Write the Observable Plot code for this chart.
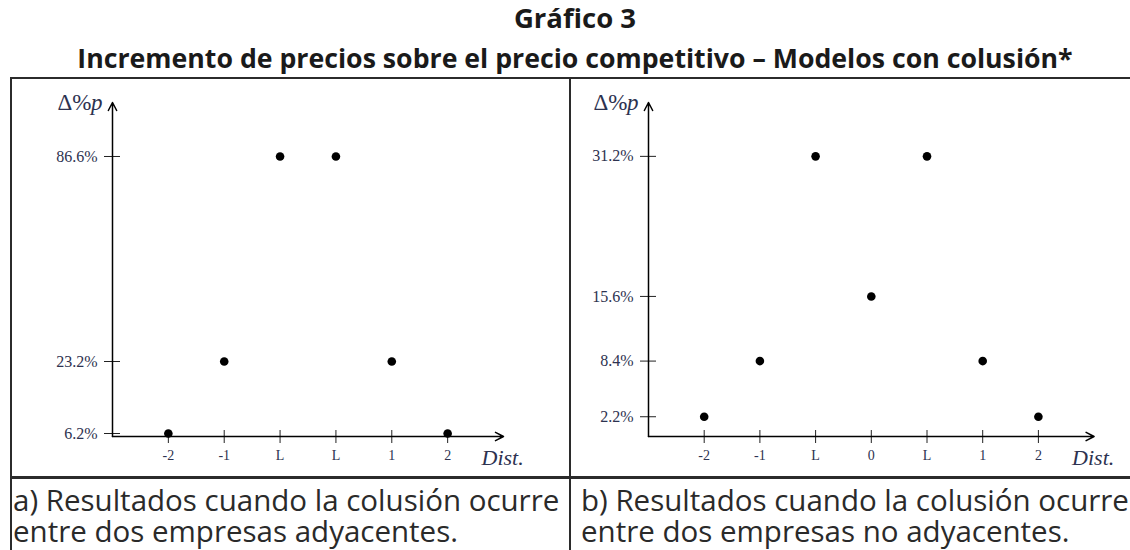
<!DOCTYPE html>
<html>
<head>
<meta charset="utf-8">
<script src="https://cdn.jsdelivr.net/npm/d3@7"></script>
<script src="https://cdn.jsdelivr.net/npm/@observablehq/plot@0.6"></script>
<style>
  html, body { margin: 0; padding: 0; background: #fff; }
  body { width: 1130px; height: 550px; position: relative; overflow: hidden; font-family: "Open Sans", sans-serif; color: #222; }
  .title { position: absolute; left: 0; width: 1150px; text-align: center; font-weight: 700; font-size: 27px; line-height: 36px; color: #1a1a1a; white-space: nowrap; }
  .hline, .vline { position: absolute; background: #2b2b2b; }
  .caption { position: absolute; font-size: 29.5px; line-height: 31px; color: #2a2a2a; white-space: nowrap; }
  .panel { position: absolute; }
</style>
</head>
<body>
<div class="title" id="t1" style="top:0px; font-size:27.5px;"></div>
<div class="title" id="t2" style="top:40px; font-size:26.7px;"></div>

<div class="hline" style="left:10px; top:77px; width:1130px; height:2px;"></div>
<div class="vline" style="left:10px; top:77px; width:2px; height:480px;"></div>
<div class="vline" style="left:569px; top:77px; width:2px; height:480px;"></div>
<div class="hline" style="left:10px; top:476px; width:1130px; height:3px;"></div>

<div class="panel" id="pa" style="left:12px; top:79px;"></div>
<div class="panel" id="pb" style="left:572px; top:79px;"></div>

<div class="caption" id="ca" style="left:13px; top:484px;"></div>
<div class="caption" id="cb" style="left:581px; top:484px;"></div>

<script>
// ---- Text ----
const titleText = "Gráfico 3";
const subtitleText = "Incremento de precios sobre el precio competitivo – Modelos con colusión*";
const captionA = ["a) Resultados cuando la colusión ocurre", "entre dos empresas adyacentes."];
const captionB = ["b) Resultados cuando la colusión ocurre", "entre dos empresas no adyacentes."];
const yAxisLabel = "Δ%";
const yAxisLabelVar = "p";
const xAxisLabel = "Dist.";

// ---- Panel a) data ----
const xLabelsA = ["-2", "-1", "L", "L", "1", "2"];
const valuesA = [6.2, 23.2, 86.6, 86.6, 23.2, 6.2];
const yTicksA = [6.2, 23.2, 86.6];

// ---- Panel b) data ----
const xLabelsB = ["-2", "-1", "L", "0", "L", "1", "2"];
const valuesB = [2.2, 8.4, 31.2, 15.6, 31.2, 8.4, 2.2];
const yTicksB = [2.2, 8.4, 15.6, 31.2];

document.getElementById("t1").textContent = titleText;
document.getElementById("t2").textContent = subtitleText;
document.getElementById("ca").innerHTML = captionA.join("<br>");
document.getElementById("cb").innerHTML = captionB.join("<br>");

const serif = "'Liberation Serif', 'DejaVu Serif', serif";
const labelColor = "#2d3250";

function panel({labels, values, ticks, yScale, yMax, width, marginLeft, marginRight}) {
  const n = labels.length;
  const pts = values.map((v, i) => ({pos: i + 1, value: v}));
  const axes = [
    {x1: 0, y1: 0, x2: n + 1, y2: 0},
    {x1: 0, y1: 0, x2: 0, y2: yMax}
  ];
  return Plot.plot({
    width,
    height: 397,
    marginLeft,
    marginRight,
    marginTop: 23,
    marginBottom: 40,
    style: {fontFamily: serif, fontSize: "15px", background: "transparent", overflow: "visible"},
    x: {type: "linear", domain: [0, n + 1]},
    y: yScale,
    marks: [
      Plot.axisY({
        ticks, tickFormat: d => d.toFixed(1) + "%",
        tickSize: 16, dx: 8, tickPadding: 7,
        stroke: "#222", fill: labelColor, fontSize: 16, strokeWidth: 1
      }),
      Plot.axisX({
        ticks: d3.range(1, n + 1), tickFormat: i => labels[i - 1],
        tickSize: 13, dy: -6, tickPadding: 7,
        stroke: "#222", fill: labelColor, fontSize: 14, strokeWidth: 1
      }),
      Plot.arrow(axes, {
        x1: "x1", y1: "y1", x2: "x2", y2: "y2",
        stroke: "black", strokeWidth: 1.5, headLength: 9, headAngle: 55
      }),
      Plot.dot(pts, {x: "pos", y: "value", r: 4.3, fill: "black"}),
      Plot.text([yMax], {
        x: () => 0, y: d => d, text: () => yAxisLabelVar,
        textAnchor: "end", dx: -10, fontSize: 23, fontStyle: "italic", fill: labelColor
      }),
      Plot.text([yMax], {
        x: () => 0, y: d => d, text: () => yAxisLabel,
        textAnchor: "end", dx: -21, fontSize: 23, fill: labelColor
      }),
      Plot.text([n + 1], {
        x: d => d, y: () => 0, text: () => xAxisLabel,
        textAnchor: "start", dx: -22, dy: 21, fontSize: 22, fontStyle: "italic", fill: labelColor
      })
    ]
  });
}

document.getElementById("pa").append(panel({
  labels: xLabelsA, values: valuesA, ticks: yTicksA, yMax: 103.3,
  yScale: {type: "linear", domain: [0, 6.2, 23.2, 103.3], range: [357, 354, 282, 23]},
  width: 557, marginLeft: 100, marginRight: 66
}));

document.getElementById("pb").append(panel({
  labels: xLabelsB, values: valuesB, ticks: yTicksB, yMax: 37.2,
  yScale: {type: "linear", domain: [0, 37.2], range: [357, 23]},
  width: 558, marginLeft: 76, marginRight: 36.4
}));
</script>
</body>
</html>
